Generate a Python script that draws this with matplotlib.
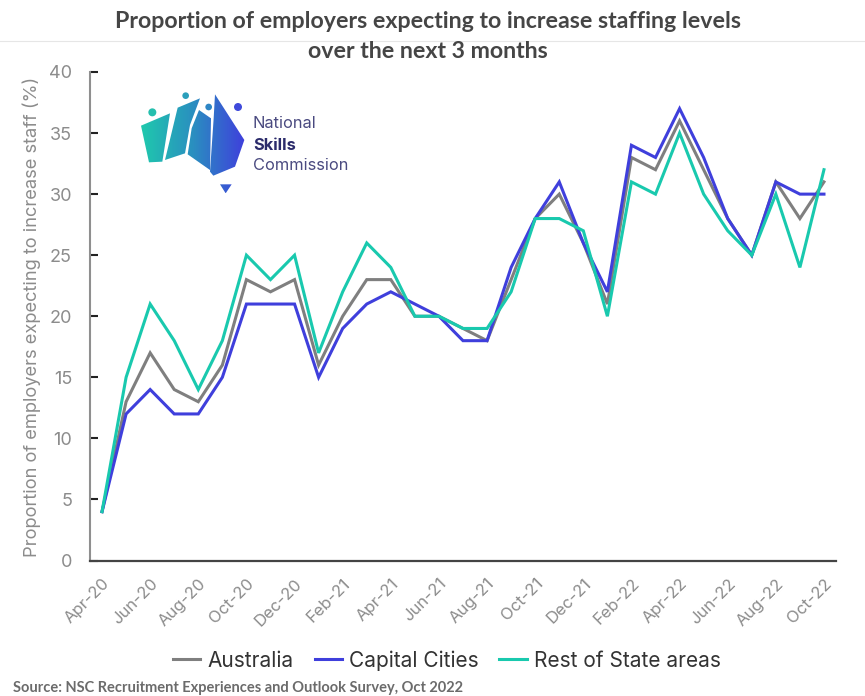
import numpy as np
import matplotlib
matplotlib.use("Agg")
import matplotlib.pyplot as plt
from matplotlib.patches import Polygon, Circle
from matplotlib.colors import LinearSegmentedColormap

# Survey results, one value per month from Apr-20 to Oct-22
months = ["Apr-20", "May-20", "Jun-20", "Jul-20", "Aug-20", "Sep-20", "Oct-20", "Nov-20", "Dec-20",
          "Jan-21", "Feb-21", "Mar-21", "Apr-21", "May-21", "Jun-21", "Jul-21", "Aug-21", "Sep-21",
          "Oct-21", "Nov-21", "Dec-21", "Jan-22", "Feb-22", "Mar-22", "Apr-22", "May-22", "Jun-22",
          "Jul-22", "Aug-22", "Sep-22", "Oct-22"]
australia = [4, 13, 17, 14, 13, 16, 23, 22, 23, 16, 20, 23, 23, 20, 20, 19, 18, 23, 28, 30, 26, 21,
             33, 32, 36, 32, 28, 25, 31, 28, 31]
capital_cities = [4, 12, 14, 12, 12, 15, 21, 21, 21, 15, 19, 21, 22, 21, 20, 18, 18, 24, 28, 31, 26, 22,
                  34, 33, 37, 33, 28, 25, 31, 30, 30]
rest_of_state = [4, 15, 21, 18, 14, 18, 25, 23, 25, 17, 22, 26, 24, 20, 20, 19, 19, 22, 28, 28, 27, 20,
                 31, 30, 35, 30, 27, 25, 30, 24, 32]

W, H = 865, 696
GREY = "#7f7f7f"
BLUE = "#3f3fdc"
TEAL = "#19c9ae"
LABEL = "#8c8c8c"
FONT = "Inter"

fig = plt.figure(figsize=(W / 100, H / 100), dpi=100, facecolor="white")
ax = fig.add_axes([90 / W, 1 - 560.5 / H, 746 / W, 488.5 / H])

x = np.arange(len(months))
ax.plot(x, australia, color=GREY, lw=2.2, label="Australia", solid_joinstyle="miter")
ax.plot(x, capital_cities, color=BLUE, lw=2.2, label="Capital Cities", solid_joinstyle="miter")
ax.plot(x, rest_of_state, color=TEAL, lw=2.2, label="Rest of State areas", solid_joinstyle="miter")

ax.set_xlim(-0.5, len(months) - 0.5)
ax.set_ylim(0, 40)
ax.set_xticks(x[::2])
ax.set_xticklabels(months[::2], rotation=45, ha="right", rotation_mode="anchor",
                   family=FONT, fontsize=12, color=LABEL)
ax.set_yticks(range(0, 41, 5))
ax.tick_params(axis="y", direction="in", length=6, width=1.5, color="#222222",
               labelsize=13, labelcolor=LABEL, pad=13)
ax.tick_params(axis="x", length=0, pad=11)
for lab in ax.get_yticklabels():
    lab.set_family(FONT)
ax.set_ylabel("Proportion of employers expecting to increase staff (%)",
              family=FONT, fontsize=13.2, color=LABEL)
ax.yaxis.set_label_coords(-49 / 746, 244 / 488.5)
for side in ("top", "right"):
    ax.spines[side].set_visible(False)
ax.spines["left"].set_color("#8f8f8f")
ax.spines["left"].set_linewidth(1.5)
ax.spines["bottom"].set_color("#444444")
ax.spines["bottom"].set_linewidth(1.6)

ax.legend(loc="center", bbox_to_anchor=((447 - 90) / 746, -100 / 488.5), ncol=3, frameon=False,
          prop={"family": FONT, "size": 15}, labelcolor="#333333",
          handlelength=1.3, handletextpad=0.35, columnspacing=1.0)

fig.text(428 / W, 1 - 21 / H, "Proportion of employers expecting to increase staffing levels",
         ha="center", va="center", family="Lato", fontweight="bold", fontsize=16.7, color="#454545")
fig.text(428 / W, 1 - 52 / H, "over the next 3 months",
         ha="center", va="center", family="Lato", fontweight="bold", fontsize=16.7, color="#454545")
fig.text(13 / W, 1 - 688 / H, "Source: NSC Recruitment Experiences and Outlook Survey, Oct 2022",
         ha="left", va="center", family="Lato", fontweight="bold", fontsize=10.5, color="#6b6b6b")
fig.add_artist(plt.Line2D([0, 1], [1 - 41 / H] * 2, color="#e6e6e6", lw=0.8))

# Logo: gradient map of Australia on an overlay in pixel coordinates
logo = fig.add_axes([0, 0, 1, 1], facecolor="none")
logo.axis("off")
cmap = LinearSegmentedColormap.from_list("nsc", ["#1fc9ad", "#2a8fc0", "#3f3fdc"])
gradient = np.linspace(0, 1, 256).reshape(1, -1)

def zx(v):
    return 135 + v / 3

def zy(v):
    return 85 + v / 3

shapes = [
    [(18, 122), (105, 85), (82, 230), (42, 232)],
    [(128, 68), (195, 40), (165, 120), (150, 205), (90, 225)],
    [(192, 75), (228, 100), (225, 255), (158, 208), (170, 130)],
    [(240, 28), (328, 165), (300, 245), (235, 272), (225, 260), (236, 100)],
    [(255, 298), (290, 298), (272, 325)],
]
for shape in shapes:
    patch = Polygon([(zx(a), zy(b)) for a, b in shape], closed=True, transform=logo.transData,
                    fc="none", ec="none")
    logo.add_patch(patch)
    im = logo.imshow(gradient, cmap=cmap, extent=(zx(18), zx(328), zy(325), zy(28)),
                     aspect="auto", interpolation="bilinear")
    im.set_clip_path(patch)
logo.set_xlim(0, W)
logo.set_ylim(H, 0)
for cx, cy, r, col in [(52, 82, 12, "#25bfae"), (152, 32, 10, "#2b9fbb"),
                       (221, 66, 10, "#2e86c5"), (309, 66, 12, "#3f4adb")]:
    logo.add_patch(Circle((zx(cx), zy(cy)), r / 3, fc=col, ec="none"))
logo.text(253, 124, "National", family=FONT, fontsize=11.8, color="#4a4a80", va="center")
logo.text(253, 145, "Skills", family=FONT, fontsize=11.8, fontweight="bold", color="#2b2b6b", va="center")
logo.text(253, 166, "Commission", family=FONT, fontsize=11.8, color="#4a4a80", va="center")

fig.savefig("out.png", dpi=100)
